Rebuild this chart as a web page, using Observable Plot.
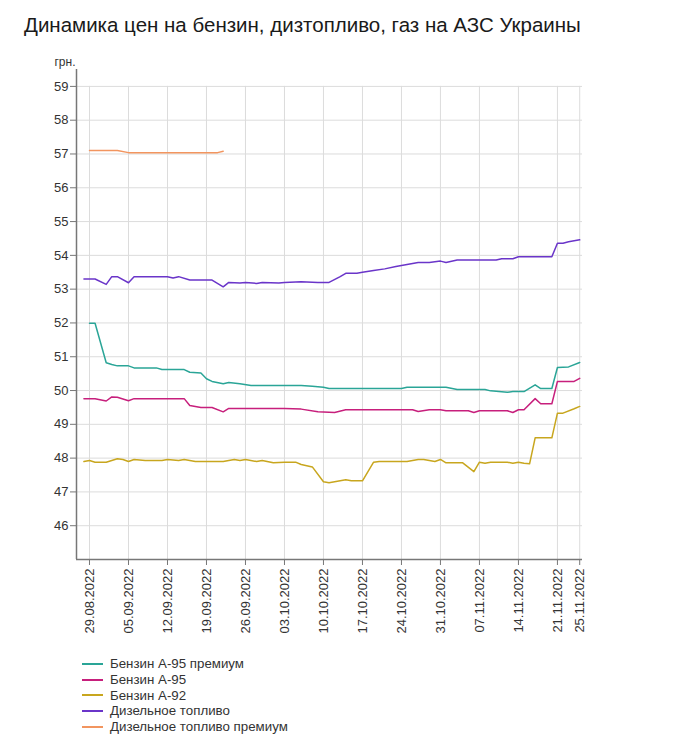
<!DOCTYPE html>
<html>
<head>
<meta charset="utf-8">
<script src="https://cdn.jsdelivr.net/npm/d3@7"></script>
<script src="https://cdn.jsdelivr.net/npm/@observablehq/plot@0.6"></script>
<style>
  html, body { margin: 0; padding: 0; background: #fff; }
  body { width: 694px; font-family: "Liberation Sans", Arial, sans-serif; color: #222; }
  #title { height: 44px; box-sizing: border-box; padding: 13px 0 0 24px; font-size: 20.5px; line-height: 23px; color: #1a1a1a; white-space: nowrap; }
  #chart svg { display: block; }
  #legend { margin-top: 12px; padding-left: 82px; }
  .item { display: flex; align-items: center; height: 15.7px; font-size: 13.3px; color: #333; }
  .sw { width: 21px; height: 2px; margin-right: 7px; }
</style>
</head>
<body>
<div id="title">Динамика цен на бензин, дизтопливо, газ на АЗС Украины</div>
<div id="chart"></div>
<div id="legend"></div>
<script>
const seriesNames = ["Бензин А-95 премиум", "Бензин А-95", "Бензин А-92", "Дизельное топливо", "Дизельное топливо премиум"];
const seriesColors = ["#2aa597", "#c71f7c", "#c8a61e", "#6a35c9", "#f2955f"];

const a95pDates = ["2022-08-29","2022-08-30","2022-09-01","2022-09-02","2022-09-03","2022-09-05","2022-09-06","2022-09-10","2022-09-11","2022-09-15","2022-09-16","2022-09-18","2022-09-19","2022-09-20","2022-09-22","2022-09-23","2022-09-25","2022-09-27","2022-10-06","2022-10-08","2022-10-10","2022-10-11","2022-10-24","2022-10-25","2022-11-01","2022-11-03","2022-11-08","2022-11-09","2022-11-12","2022-11-13","2022-11-15","2022-11-17","2022-11-18","2022-11-20","2022-11-21","2022-11-23","2022-11-25"];
const a95pValues = [51.99,51.99,50.82,50.77,50.73,50.73,50.67,50.67,50.62,50.62,50.54,50.52,50.35,50.27,50.2,50.24,50.2,50.15,50.15,50.13,50.1,50.06,50.06,50.1,50.1,50.03,50.03,49.99,49.95,49.97,49.97,50.17,50.06,50.06,50.68,50.7,50.83];

const a95Dates = ["2022-08-28","2022-08-30","2022-09-01","2022-09-02","2022-09-03","2022-09-05","2022-09-06","2022-09-15","2022-09-16","2022-09-18","2022-09-20","2022-09-22","2022-09-23","2022-10-03","2022-10-06","2022-10-09","2022-10-12","2022-10-14","2022-10-26","2022-10-27","2022-10-29","2022-10-31","2022-11-01","2022-11-05","2022-11-06","2022-11-07","2022-11-12","2022-11-13","2022-11-14","2022-11-15","2022-11-17","2022-11-18","2022-11-20","2022-11-21","2022-11-24","2022-11-25"];
const a95Values = [49.76,49.76,49.69,49.81,49.8,49.7,49.76,49.76,49.56,49.5,49.5,49.37,49.47,49.47,49.45,49.37,49.35,49.43,49.43,49.38,49.43,49.43,49.4,49.4,49.35,49.4,49.4,49.35,49.43,49.43,49.76,49.61,49.61,50.27,50.27,50.36];

const a92Dates = ["2022-08-28","2022-08-29","2022-08-30","2022-09-01","2022-09-03","2022-09-04","2022-09-05","2022-09-06","2022-09-08","2022-09-11","2022-09-12","2022-09-14","2022-09-15","2022-09-17","2022-09-22","2022-09-24","2022-09-25","2022-09-26","2022-09-28","2022-09-29","2022-10-01","2022-10-03","2022-10-05","2022-10-06","2022-10-08","2022-10-10","2022-10-11","2022-10-14","2022-10-15","2022-10-17","2022-10-19","2022-10-20","2022-10-25","2022-10-27","2022-10-28","2022-10-30","2022-10-31","2022-11-01","2022-11-04","2022-11-06","2022-11-07","2022-11-08","2022-11-09","2022-11-12","2022-11-13","2022-11-14","2022-11-15","2022-11-16","2022-11-17","2022-11-20","2022-11-21","2022-11-22","2022-11-24","2022-11-25"];
const a92Values = [47.9,47.93,47.88,47.88,47.98,47.96,47.9,47.96,47.93,47.93,47.96,47.93,47.96,47.9,47.9,47.96,47.93,47.96,47.9,47.93,47.86,47.88,47.88,47.81,47.74,47.3,47.27,47.36,47.33,47.33,47.88,47.9,47.9,47.96,47.96,47.9,47.96,47.86,47.86,47.6,47.88,47.85,47.88,47.88,47.85,47.88,47.85,47.83,48.6,48.6,49.33,49.33,49.46,49.53];

const dieselDates = ["2022-08-28","2022-08-30","2022-09-01","2022-09-02","2022-09-03","2022-09-05","2022-09-06","2022-09-12","2022-09-13","2022-09-14","2022-09-16","2022-09-20","2022-09-22","2022-09-23","2022-09-25","2022-09-26","2022-09-28","2022-09-29","2022-10-02","2022-10-03","2022-10-06","2022-10-09","2022-10-10","2022-10-11","2022-10-13","2022-10-14","2022-10-16","2022-10-17","2022-10-19","2022-10-21","2022-10-23","2022-10-24","2022-10-27","2022-10-29","2022-10-31","2022-11-01","2022-11-03","2022-11-07","2022-11-10","2022-11-11","2022-11-13","2022-11-14","2022-11-20","2022-11-21","2022-11-22","2022-11-23","2022-11-25"];
const dieselValues = [53.3,53.3,53.14,53.37,53.37,53.19,53.37,53.37,53.33,53.37,53.27,53.27,53.07,53.2,53.18,53.2,53.17,53.2,53.18,53.2,53.22,53.2,53.2,53.2,53.37,53.47,53.47,53.5,53.55,53.6,53.67,53.7,53.79,53.79,53.83,53.79,53.86,53.86,53.86,53.9,53.9,53.96,53.96,54.36,54.36,54.4,54.46];

const dieselPDates = ["2022-08-29","2022-09-03","2022-09-05","2022-09-21","2022-09-22"];
const dieselPValues = [57.1,57.1,57.04,57.04,57.08];

const xTickLabels = ["2022-08-29","2022-09-05","2022-09-12","2022-09-19","2022-09-26","2022-10-03","2022-10-10","2022-10-17","2022-10-24","2022-10-31","2022-11-07","2022-11-14","2022-11-21","2022-11-25"];
const yTicks = [46,47,48,49,50,51,52,53,54,55,56,57,58,59];

const seriesDates = [a95pDates, a95Dates, a92Dates, dieselDates, dieselPDates];
const seriesValues = [a95pValues, a95Values, a92Values, dieselValues, dieselPValues];

const rows = [];
seriesNames.forEach((name, i) => {
  seriesDates[i].forEach((d, j) => {
    rows.push({series: name, date: new Date(d + "T00:00:00Z"), value: seriesValues[i][j]});
  });
});

const xTicks = xTickLabels.map(d => new Date(d + "T00:00:00Z"));
const xDomain = [new Date(Date.UTC(2022, 7, 26, 16)), new Date(Date.UTC(2022, 10, 25, 12))];
const fmt = d3.utcFormat("%d.%m.%Y");

const chart = Plot.plot({
  width: 694,
  height: 600,
  marginLeft: 76,
  marginRight: 112,
  marginTop: 25,
  marginBottom: 85,
  style: {fontFamily: "'Liberation Sans', Arial, sans-serif", fontSize: "13px", background: "#fff"},
  x: {type: "utc", domain: xDomain},
  y: {domain: [45, 59.5]},
  color: {domain: seriesNames, range: seriesColors},
  marks: [
    Plot.gridY(yTicks, {stroke: "#dcdcdc", strokeOpacity: 1}),
    Plot.ruleX(xTicks, {y1: 45, y2: 59, stroke: "#dcdcdc"}),
    Plot.line(rows, {x: "date", y: "value", z: "series", stroke: "series", strokeWidth: 1.5}),
    Plot.axisY(yTicks, {tickSize: 6, tickPadding: 2, fontSize: 13, stroke: "#777", fill: "#333", label: null}),
    Plot.axisX(xTicks, {tickFormat: fmt, tickRotate: -90, tickSize: 6, tickPadding: 3, fontSize: 13, stroke: "#777", fill: "#333", label: null}),
    Plot.ruleX([xDomain[0]], {y1: 45, y2: 59.5, stroke: "#777", strokeWidth: 1.5}),
    Plot.ruleY([45], {stroke: "#777", strokeWidth: 1.5}),
    Plot.text(["грн."], {text: d => d, frameAnchor: "top-left", dx: -1, dy: -4, textAnchor: "end", lineAnchor: "bottom", fontSize: 12, fill: "#333"})
  ]
});
document.getElementById("chart").appendChild(chart);

const legend = document.getElementById("legend");
seriesNames.forEach((name, i) => {
  const item = document.createElement("div");
  item.className = "item";
  const sw = document.createElement("span");
  sw.className = "sw";
  sw.style.background = seriesColors[i];
  const label = document.createElement("span");
  label.textContent = name;
  item.appendChild(sw);
  item.appendChild(label);
  legend.appendChild(item);
});
</script>
</body>
</html>
